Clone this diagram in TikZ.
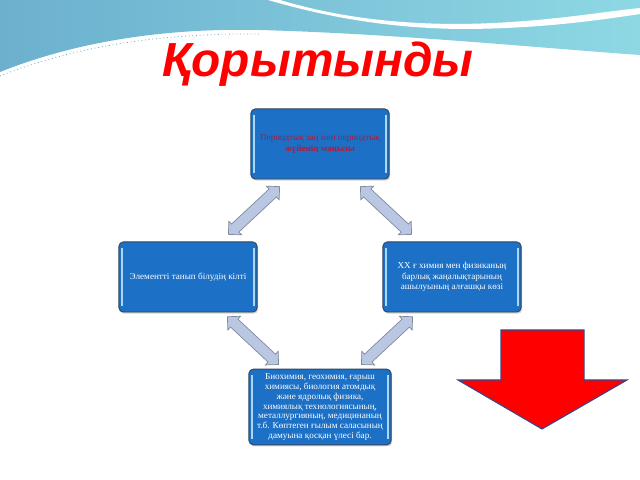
\documentclass[tikz,border=0pt]{standalone}
\usepackage{fontspec}
\setmainfont{Liberation Serif}
\newfontfamily\titlefont{Liberation Sans}
\usetikzlibrary{shapes.arrows,shadows,calc}
\tikzset{>=latex}
\definecolor{boxblue}{RGB}{28,112,198}
\definecolor{boxedge}{RGB}{52,70,92}
\definecolor{boxshine}{RGB}{170,215,245}
\definecolor{linkfill}{RGB}{186,199,226}
\definecolor{linkedge}{RGB}{128,138,158}
\definecolor{toptext}{RGB}{172,28,62}
\definecolor{wavedark}{RGB}{108,176,206}
\definecolor{wavelight}{RGB}{142,216,228}
\definecolor{arrowedge}{RGB}{60,70,140}
\tikzset{box it/.style={draw=boxedge, line width=0.7pt, fill=boxblue, rounded corners=3pt,
    minimum width=3.45cm, minimum height=1.75cm, align=center, text=white,
    font=\fontsize{6.5}{7.5}\selectfont,
    drop shadow={opacity=0.35, shadow xshift=0.8pt, shadow yshift=-1.2pt},
    path picture={
      \draw[boxshine, line width=1.1pt]
        ([xshift=2.2pt,yshift=-4pt]path picture bounding box.north west) --
        ([xshift=2.2pt,yshift=4pt]path picture bounding box.south west)
        ([xshift=-2.2pt,yshift=-4pt]path picture bounding box.north east) --
        ([xshift=-2.2pt,yshift=4pt]path picture bounding box.south east);}}}
\tikzset{link it/.style={double arrow, draw=linkedge, fill=linkfill, line width=0.5pt,
    minimum height=1.75cm, inner sep=3.6pt, double arrow head extend=2.8pt}}
\tikzset{stop it/.style={fill=red, draw=arrowedge, line width=0.8pt, line join=miter}}

\begin{document}
\begin{tikzpicture}[x=0.025cm, y=0.025cm]

\useasboundingbox (0,0) rectangle (640,480);

% waves at the top
\shade[left color=wavedark, right color=wavelight]
  (0,480) -- (640,480) -- (640,425)
  .. controls (540,432) and (400,446) .. (260,450)
  .. controls (170,452) and (80,440) .. (0,408) -- cycle;
\fill[white] (280,480) .. controls (340,462) and (400,456) .. (460,456)
  .. controls (540,457) and (600,468) .. (640,472) -- (640,466)
  .. controls (600,460) and (540,451) .. (460,451)
  .. controls (390,452) and (330,462) .. (268,480) -- cycle;
\draw[wavedark, dotted, line width=0.6pt]
  (0,404) .. controls (80,436) and (170,447) .. (260,446);

\node[font=\titlefont\bfseries\itshape\fontsize{34}{34}\selectfont, text=red]
  (title) at (318,416) {Қорытынды};

\node[box it, text=toptext] (law) at (320,336)
  {Периодтық заң мен периодтық\\\textbf{жүйенің маңызы}};
\node[box it] (key) at (188,203) {Элементті танып білудің кілті};
\node[box it] (source) at (452,203)
  {XX ғ химия мен физиканың\\барлық жаңалықтарының\\ашылуының алғашқы көзі};
\node[box it, minimum width=3.55cm, minimum height=1.68cm,
  font=\fontsize{6.5}{6.9}\selectfont] (share) at (320,73)
  {Биохимия, геохимия, ғарыш\\химиясы, биология атомдық\\және ядролық физика,\\химиялық технологиясының,\\металлургияның, медицинаның\\т.б. Көптеген ғылым саласының\\дамуына қосқан үлесі бар.};

\node[link it, rotate=43] (l1) at ($(law.south west)!.5!(key.north east)$) {};
\node[link it, rotate=-43] (l2) at ($(law.south east)!.5!(source.north west)$) {};
\node[link it, rotate=-43] (l3) at ($(key.south east)!.5!(share.north west)$) {};
\node[link it, rotate=43] (l4) at ($(source.south west)!.5!(share.north east)$) {};

\draw[stop it] (501,150) -- (584,150) -- (584,100) -- (627,100)
  -- (542,51) -- (458,100) -- (501,100) -- cycle;

\end{tikzpicture}
\end{document}
